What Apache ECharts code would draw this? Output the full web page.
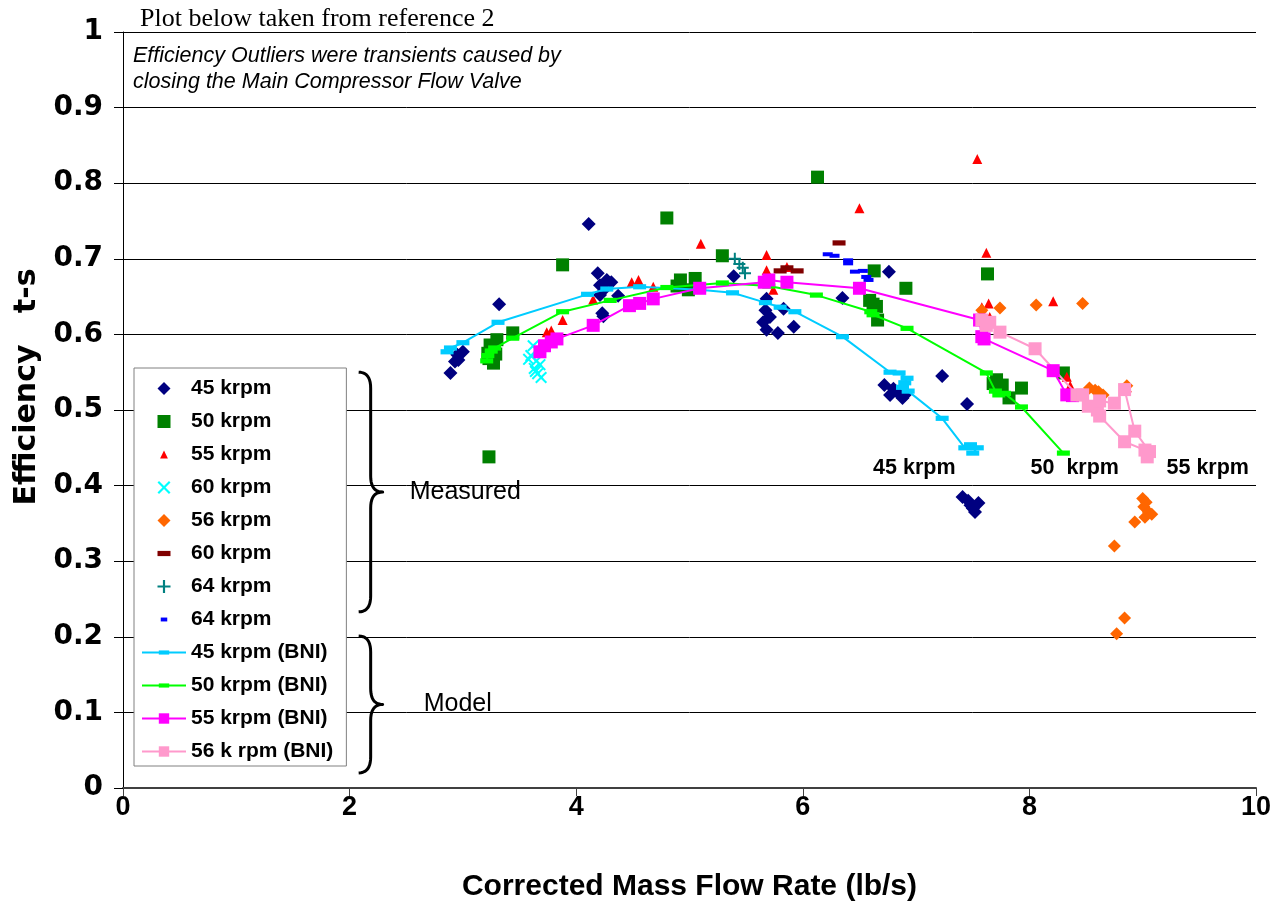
<!DOCTYPE html>
<html>
<head>
<meta charset="utf-8">
<script src="https://cdn.jsdelivr.net/npm/echarts@6/dist/echarts.min.js"></script>
<style>
  html, body { margin: 0; padding: 0; background: #ffffff; }
  #chart { width: 1274px; height: 901px; }
</style>
</head>
<body>
<div id="chart"></div>
<script>
// ---- Measured efficiency points [corrected mass flow (lb/s), efficiency t-s] ----
const m45 = [[2.89,0.549],[2.93,0.564],[2.95,0.573],[2.96,0.566],[3.00,0.577],[3.32,0.640],
  [4.11,0.746],[4.19,0.681],[4.21,0.665],[4.27,0.672],[4.31,0.669],[4.25,0.660],[4.21,0.652],
  [4.37,0.651],[4.23,0.628],[4.24,0.624],[5.39,0.677],[5.68,0.647],[5.67,0.632],[5.71,0.623],
  [5.65,0.616],[5.68,0.606],[5.78,0.602],[5.92,0.610],[5.83,0.634],[6.35,0.648],[6.76,0.683],
  [6.72,0.533],[6.77,0.520],[6.83,0.524],[6.88,0.516],[6.90,0.520],[6.80,0.528],[7.23,0.545],
  [7.45,0.508],[7.41,0.385],[7.46,0.380],[7.48,0.374],[7.52,0.365],[7.55,0.377],[7.50,0.370]];
const m50 = [[3.23,0.438],[3.22,0.575],[3.24,0.586],[3.23,0.568],[3.27,0.562],[3.29,0.574],
  [3.27,0.580],[3.30,0.593],[3.44,0.602],[3.88,0.692],[4.80,0.754],[5.29,0.704],[4.92,0.672],
  [5.05,0.674],[4.99,0.659],[4.89,0.664],[6.13,0.808],[6.63,0.684],[6.91,0.661],[6.59,0.645],
  [6.65,0.637],[6.66,0.619],[6.62,0.640],[7.63,0.680],[7.71,0.540],[7.76,0.533],[7.93,0.529],
  [7.82,0.516],[7.68,0.535],[8.30,0.549]];
const m55 = [[3.74,0.603],[3.78,0.605],[3.88,0.619],[4.15,0.646],[4.49,0.669],[4.55,0.672],
  [4.68,0.663],[5.10,0.720],[5.68,0.705],[5.68,0.685],[5.74,0.659],[5.86,0.689],[6.50,0.767],
  [7.54,0.832],[7.62,0.708],[7.58,0.636],[7.64,0.641],[7.65,0.623],[8.21,0.644],[8.33,0.544],
  [8.36,0.532],[8.86,0.530]];
const m60 = [[3.62,0.585],[3.66,0.578],[3.60,0.572],[3.65,0.565],[3.68,0.560],[3.58,0.567],
  [3.63,0.555],[3.66,0.548],[3.69,0.543],[3.64,0.551]];
const m56 = [[7.58,0.632],[7.74,0.635],[8.06,0.639],[8.47,0.641],[8.53,0.529],[8.58,0.526],
  [8.61,0.524],[8.65,0.520],[8.86,0.532],[9.00,0.383],[9.01,0.372],[9.02,0.358],[9.05,0.365],
  [9.08,0.362],[9.03,0.378],[8.93,0.352],[8.75,0.320],[8.84,0.225],[8.77,0.204]];
const m60b = [[5.80,0.684],[5.86,0.688],[5.95,0.684],[6.32,0.721]];
const m64 = [[5.40,0.700],[5.44,0.693],[5.47,0.688],[5.49,0.681]];
const m64b = [[6.22,0.706],[6.28,0.704],[6.40,0.698],[6.40,0.694],[6.46,0.683],[6.53,0.684],
  [6.56,0.676],[6.58,0.672]];

// ---- BNI model curves ----
const bni45 = [[2.86,0.577],[2.89,0.582],[3.00,0.589],[3.31,0.616],[4.10,0.653],[4.27,0.660],
  [4.56,0.663],[5.09,0.659],[5.38,0.655],[5.67,0.642],[5.80,0.636],[5.93,0.630],[6.35,0.597],
  [6.77,0.550],[6.85,0.549],[6.92,0.542],[6.90,0.536],[6.88,0.530],[6.93,0.525],[7.23,0.489],
  [7.43,0.450],[7.48,0.454],[7.54,0.450],[7.50,0.443]];
const bni50 = [[3.21,0.565],[3.22,0.572],[3.25,0.578],[3.28,0.582],[3.44,0.595],[3.88,0.630],
  [4.30,0.645],[4.80,0.662],[5.29,0.668],[5.70,0.664],[6.12,0.652],[6.60,0.630],[6.62,0.626],
  [6.92,0.608],[7.62,0.549],[7.70,0.525],[7.73,0.520],[7.78,0.522],[7.93,0.504],[8.30,0.443]];
const bni55 = [[3.68,0.577],[3.72,0.585],[3.78,0.590],[3.83,0.594],[4.15,0.612],[4.47,0.638],
  [4.56,0.641],[4.68,0.647],[5.09,0.661],[5.66,0.669],[5.70,0.672],[5.86,0.669],[6.50,0.661],
  [7.56,0.619],[7.58,0.597],[7.60,0.594],[8.21,0.552],[8.33,0.520],[8.38,0.519]];
const bni56 = [[7.58,0.619],[7.62,0.612],[7.65,0.616],[7.74,0.603],[8.05,0.581],[8.42,0.520],
  [8.47,0.520],[8.52,0.505],[8.60,0.500],[8.62,0.492],[8.84,0.458],[9.02,0.447],[9.04,0.438],
  [9.06,0.445],[8.93,0.472],[8.84,0.527],[8.75,0.509],[8.62,0.512]];

// ---- Axis ticks and text ----
const xTickValues = [0, 2, 4, 6, 8, 10];
const yTickValues = [0, 0.1, 0.2, 0.3, 0.4, 0.5, 0.6, 0.7, 0.8, 0.9, 1];
const legendNames = ['45 krpm', '50 krpm', '55 krpm', '60 krpm', '56 krpm', '60 krpm ', '64 krpm',
  '64 krpm ', '45 krpm (BNI)', '50 krpm (BNI)', '55 krpm (BNI)', '56 k rpm (BNI)'];
const curveLabels = [['45 krpm', 6.62, 0.423], ['50  krpm', 8.01, 0.423], ['55 krpm', 9.21, 0.423]];
const groupLabels = [['Measured', 0.550, 0.233], ['Model', 0.201, 0.020]];

const SANS = '"Liberation Sans", Arial, Helvetica, sans-serif';
const WIDE = '"DejaVu Sans", Verdana, sans-serif';
const SERIF = '"Liberation Serif", "Times New Roman", serif';

// symbol paths (the bare M points pad the icon box so legend icons keep a square frame)
const DASH = 'path://M0,0M0,3h10v4h-10zM10,10';
const XMARK = 'path://M0,1.4L1.4,0L6,4.6L10.6,0L12,1.4L7.4,6L12,10.6L10.6,12L6,7.4L1.4,12L0,10.6L4.6,6Z';
const PLUS = 'path://M5,0h2v5h5v2h-5v5h-2v-5h-5v-2h5z';
const ICON_DIAMOND = 'path://M5,0L10,5L5,10L0,5Z';
const ICON_SQUARE = 'path://M0,0h10v10h-10z';
const ICON_TRIANGLE = 'path://M0,0M5,2L8,8L2,8ZM10,10';
const ICON_SMALLDASH = 'path://M0,0M2.5,3.5h5v3h-5zM10,10';

function scatter(name, data, symbol, size, color) {
  return { name, type: 'scatter', data, symbol, symbolSize: size,
    itemStyle: { color, opacity: 1 }, emphasis: { disabled: true }, z: 3 };
}
function model(name, data, color, symbol, size) {
  return { name, type: 'line', data, symbol, symbolSize: size, showSymbol: true,
    lineStyle: { color, width: 2 }, itemStyle: { color, opacity: 1 },
    emphasis: { disabled: true }, animation: false, z: 4 };
}

const chart = echarts.init(document.getElementById('chart'), null, { renderer: 'canvas' });

const option = {
  backgroundColor: '#ffffff',
  animation: false,
  grid: { left: 123, right: 18, top: 32, bottom: 113, containLabel: false, outerBoundsMode: 'none' },
  xAxis: {
    type: 'value', min: xTickValues[0], max: xTickValues[xTickValues.length - 1], interval: 2,
    axisLine: { show: true, lineStyle: { color: '#404040', width: 2 } },
    axisTick: { show: true, inside: false, length: 8, lineStyle: { color: '#404040', width: 1 } },
    axisLabel: { color: '#000', fontFamily: SANS, fontWeight: 'bold', fontSize: 27, margin: 6 },
    splitLine: { show: false },
    name: 'Corrected Mass Flow Rate (lb/s)', nameLocation: 'middle', nameGap: 84,
    nameTextStyle: { color: '#000', fontFamily: SANS, fontWeight: 'bold', fontSize: 30 }
  },
  yAxis: {
    type: 'value', min: yTickValues[0], max: yTickValues[yTickValues.length - 1], interval: 0.1,
    axisLine: { show: true, lineStyle: { color: '#000', width: 1 } },
    axisTick: { show: true, inside: false, length: 9, lineStyle: { color: '#000', width: 1 } },
    axisLabel: { color: '#000', fontFamily: WIDE, fontWeight: 'bold', fontSize: 28, margin: 20,
      formatter: v => String(+v.toFixed(1)) },
    splitLine: { show: true, lineStyle: { color: '#000', width: 1 } }
  },
  legend: {
    orient: 'vertical', left: 134, top: 368,
    padding: [10, 13, 4, 7],
    itemWidth: 44, itemHeight: 13, itemGap: 12,
    backgroundColor: '#ffffff', borderColor: '#808080', borderWidth: 1, borderRadius: 0,
    selectedMode: false,
    textStyle: { color: '#000', fontFamily: SANS, fontWeight: 'bold', fontSize: 21, lineHeight: 20 },
    data: [
      { name: legendNames[0], icon: ICON_DIAMOND },
      { name: legendNames[1], icon: ICON_SQUARE },
      { name: legendNames[2], icon: ICON_TRIANGLE },
      { name: legendNames[3], icon: XMARK },
      { name: legendNames[4], icon: ICON_DIAMOND },
      { name: legendNames[5], icon: DASH },
      { name: legendNames[6], icon: PLUS },
      { name: legendNames[7], icon: ICON_SMALLDASH },
      { name: legendNames[8] },
      { name: legendNames[9] },
      { name: legendNames[10] },
      { name: legendNames[11] }
    ]
  },
  series: [
    scatter(legendNames[0], m45, 'diamond', 14, '#000080'),
    scatter(legendNames[1], m50, 'rect', 13, '#008000'),
    scatter(legendNames[2], m55, 'triangle', 10, '#ff0000'),
    scatter(legendNames[3], m60, XMARK, 12, '#00ffff'),
    scatter(legendNames[4], m56, 'diamond', 13, '#ff6600'),
    scatter(legendNames[5], m60b, DASH, 13, '#800000'),
    scatter(legendNames[6], m64, PLUS, 12, '#008080'),
    scatter(legendNames[7], m64b, DASH, 10, '#0000ff'),
    model(legendNames[8], bni45, '#00ccff', DASH, 13),
    model(legendNames[9], bni50, '#00ff00', DASH, 13),
    model(legendNames[10], bni55, '#ff00ff', 'rect', 13),
    model(legendNames[11], bni56, '#ff99cc', 'rect', 13)
  ]
};
chart.setOption(option);

// ---- Annotations placed through the axes' coordinate system ----
function px(x, y) { return chart.convertToPixel({ gridIndex: 0 }, [x, y]); }

// sample a quadratic Bezier into points
function quad(p0, c, p1, n) {
  const out = [];
  for (let i = 0; i <= n; i++) {
    const t = i / n, u = 1 - t;
    out.push([u * u * p0[0] + 2 * u * t * c[0] + t * t * p1[0],
              u * u * p0[1] + 2 * u * t * c[1] + t * t * p1[1]]);
  }
  return out;
}

// right-hand curly brace from y0 to y1 with its left edge at x0
function bracePoints(x0, y0, y1, w, r) {
  const mid = x0 + w / 2, ym = (y0 + y1) / 2;
  return [].concat(
    quad([x0, y0], [mid, y0], [mid, y0 + r], 10),
    quad([mid, ym - r], [mid, ym], [x0 + w, ym], 10),
    quad([x0 + w, ym], [mid, ym], [mid, ym + r], 10),
    quad([mid, y1 - r], [mid, y1], [x0, y1], 10)
  );
}

const braceX = 2.08;      // left edge of the braces, in axis units
const graphics = [];

groupLabels.forEach(([label, yTop, yBot]) => {
  const a = px(braceX, yTop), b = px(braceX, yBot);
  const w = 24, r = 16;
  graphics.push({ type: 'polyline', shape: { points: bracePoints(a[0], a[1], b[1], w, r) },
    style: { fill: null, stroke: '#000', lineWidth: 3, lineJoin: 'round' }, z: 10 });
  graphics.push({ type: 'text', x: a[0] + w + (label === 'Model' ? 41 : 27), y: (a[1] + b[1]) / 2,
    style: { text: label, fill: '#000', font: `25px ${SANS}`, textAlign: 'left', textVerticalAlign: 'middle' },
    z: 10 });
});

curveLabels.forEach(([label, x, y]) => {
  const p = px(x, y);
  graphics.push({ type: 'text', x: p[0], y: p[1],
    style: { text: label, fill: '#000', font: `bold 21.5px ${SANS}`, textAlign: 'left', textVerticalAlign: 'middle' },
    z: 10 });
});

// y axis title
graphics.push({ type: 'text', x: 27, y: 387, rotation: Math.PI / 2,
  style: { text: 'Efficiency   t-s', fill: '#000', font: `bold 30px ${WIDE}`,
    textAlign: 'center', textVerticalAlign: 'middle' }, z: 10 });

// heading and note
graphics.push({ type: 'text', x: 140, y: 19,
  style: { text: 'Plot below taken from reference 2', fill: '#000', font: `26px ${SERIF}`,
    textAlign: 'left', textVerticalAlign: 'middle' }, z: 10 });
graphics.push({ type: 'text', x: 133, y: 56,
  style: { text: 'Efficiency Outliers were transients caused by', fill: '#000',
    font: `italic 21.5px ${SANS}`, textAlign: 'left', textVerticalAlign: 'middle' }, z: 10 });
graphics.push({ type: 'text', x: 133, y: 82,
  style: { text: 'closing the Main Compressor Flow Valve', fill: '#000',
    font: `italic 21.5px ${SANS}`, textAlign: 'left', textVerticalAlign: 'middle' }, z: 10 });

chart.setOption({ graphic: { elements: graphics } });
</script>
</body>
</html>
